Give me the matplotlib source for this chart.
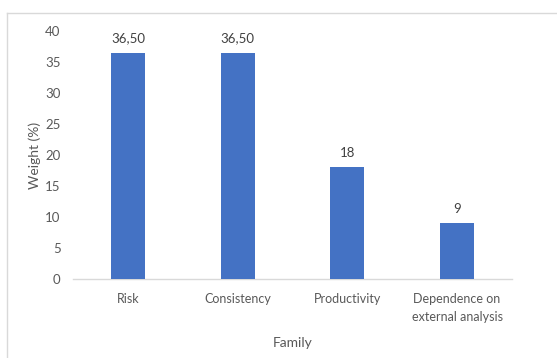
import matplotlib.pyplot as plt
from matplotlib.lines import Line2D

categories = ["Risk", "Consistency", "Productivity", "Dependence on\nexternal analysis"]
weights = [36.5, 36.5, 18, 9]
value_labels = ["36,50", "36,50", "18", "9"]
y_ticks = [0, 5, 10, 15, 20, 25, 30, 35, 40]

plt.rcParams['font.family'] = ['Lato', 'DejaVu Sans']
text_color = "#595959"

fig = plt.figure(figsize=(5.57, 3.58), dpi=100)
W, H = 557, 358
ax = fig.add_axes([73 / W, 1 - 279 / H, (512 - 73) / W, (279 - 31) / H])

x = range(len(categories))
bars = ax.bar(x, weights, width=0.31, color="#4472C4", zorder=3)
for b, lab in zip(bars, value_labels):
    ax.annotate(lab, (b.get_x() + b.get_width() / 2, b.get_height()),
                xytext=(0, 6), textcoords="offset points",
                ha="center", va="bottom", fontsize=9.5, color="#404040")

ax.set_xlim(-0.5, len(categories) - 0.5)
ax.set_ylim(0, 40)
ax.set_yticks(y_ticks)
ax.set_xticks(list(x))
ax.set_xticklabels(categories, fontsize=9, color=text_color, linespacing=1.65)
ax.tick_params(axis="y", labelsize=9.5, labelcolor=text_color, length=0, pad=9)
ax.tick_params(axis="x", length=0, pad=10)

for s in ["top", "right", "left"]:
    ax.spines[s].set_visible(False)
ax.spines["bottom"].set_color("#d9d9d9")
ax.spines["bottom"].set_linewidth(1)

ax.set_ylabel("Weight (%)", fontsize=10, color=text_color, labelpad=3)
ax.set_xlabel("Family", fontsize=10, color=text_color, labelpad=10)

# chart area border (top and left edges visible)
fig.add_artist(Line2D([7 / W, 7 / W], [0, 1 - 13 / H], transform=fig.transFigure,
                      color="#d9d9d9", lw=1))
fig.add_artist(Line2D([7 / W, 1], [1 - 13 / H, 1 - 13 / H], transform=fig.transFigure,
                      color="#d9d9d9", lw=1))

fig.savefig("out.png", dpi=100, facecolor="white")
